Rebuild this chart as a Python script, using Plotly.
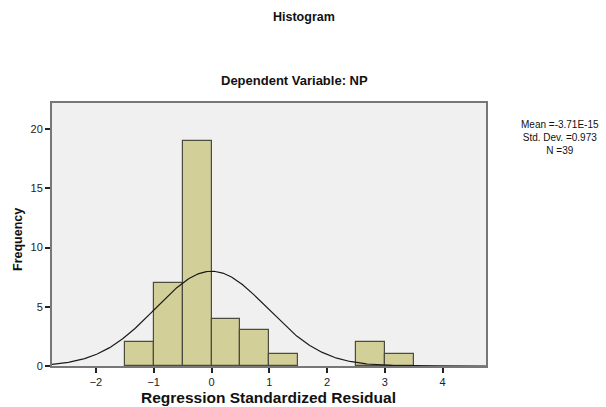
import numpy as np
import plotly.graph_objects as go

# Histogram bins (left edges, width 0.5) and frequencies
bin_left = [-1.5, -1.0, -0.5, 0.0, 0.5, 1.0, 2.5, 3.0]
counts = [2, 7, 19, 4, 3, 1, 2, 1]
bin_width = 0.5

# Summary statistics shown beside the plot
mean_val = -3.71e-15
std_val = 0.973
n_obs = 39

x_ticks = [-2, -1, 0, 1, 2, 3, 4]
y_ticks = [0, 5, 10, 15, 20]

FONT = "Arial, Liberation Sans, sans-serif"

centers = [b + bin_width / 2 for b in bin_left]

fig = go.Figure()
fig.add_trace(go.Bar(
    x=centers, y=counts, width=bin_width,
    marker=dict(color="#d3cf98", line=dict(color="#4b4b40", width=1.2)),
    hoverinfo="skip",
))

# Fitted normal curve, scaled to frequency per bin
xs = np.linspace(-2.76, 4.75, 400)
ys = n_obs * bin_width * np.exp(-0.5 * ((xs - mean_val) / std_val) ** 2) / (std_val * np.sqrt(2 * np.pi))
fig.add_trace(go.Scatter(x=xs, y=ys, mode="lines",
                         line=dict(color="#1a1a1a", width=1.2), hoverinfo="skip"))

fig.update_layout(
    width=606, height=407,
    margin=dict(l=52, r=120, t=103, b=41),
    paper_bgcolor="white", plot_bgcolor="#f0f0f0",
    showlegend=False, bargap=0,
    font=dict(family=FONT, color="#222222", size=10),
)
fig.update_xaxes(
    range=[-2.76, 4.75], tickvals=x_ticks, ticks="outside", ticklen=5, tickwidth=1.5,
    tickcolor="#222222", showgrid=False, zeroline=False,
    showline=True, linecolor="#777777", linewidth=2, mirror=True,
    tickfont=dict(size=11, color="#222222"),
)
fig.update_yaxes(
    range=[0, 22.2], tickvals=y_ticks, ticks="outside", ticklen=5, tickwidth=1.5,
    tickcolor="#222222", showgrid=False, zeroline=False,
    showline=True, linecolor="#777777", linewidth=2, mirror=True,
    tickfont=dict(size=11, color="#222222"),
)

stats_text = f"Mean ={mean_val:.2E}<br>Std. Dev. ={std_val}<br>N ={n_obs}"

# Text placed by pixel position (x, y) in the 606x407 canvas
annotations = [
    dict(text="<b>Histogram</b>", x=304, y=17, size=12.5),
    dict(text="<b>Dependent Variable: NP</b>", x=294, y=80, size=13),
    dict(text="<b>Regression Standardized Residual</b>", x=268, y=397, size=15.5),
    dict(text="<b>Frequency</b>", x=18, y=240, size=12.5, angle=-90),
    dict(text=stats_text, x=560, y=137, size=10),
]
pw, ph = 606 - 52 - 120, 407 - 103 - 41
for a in annotations:
    fig.add_annotation(
        text=a["text"], x=(a["x"] - 52) / pw, y=1 - (a["y"] - 103) / ph,
        xref="paper", yref="paper", showarrow=False,
        xanchor="center", yanchor="middle",
        font=dict(family=FONT, color="#111111", size=a["size"]),
        textangle=a.get("angle", 0), align="center",
    )

fig.write_html("out.html")
